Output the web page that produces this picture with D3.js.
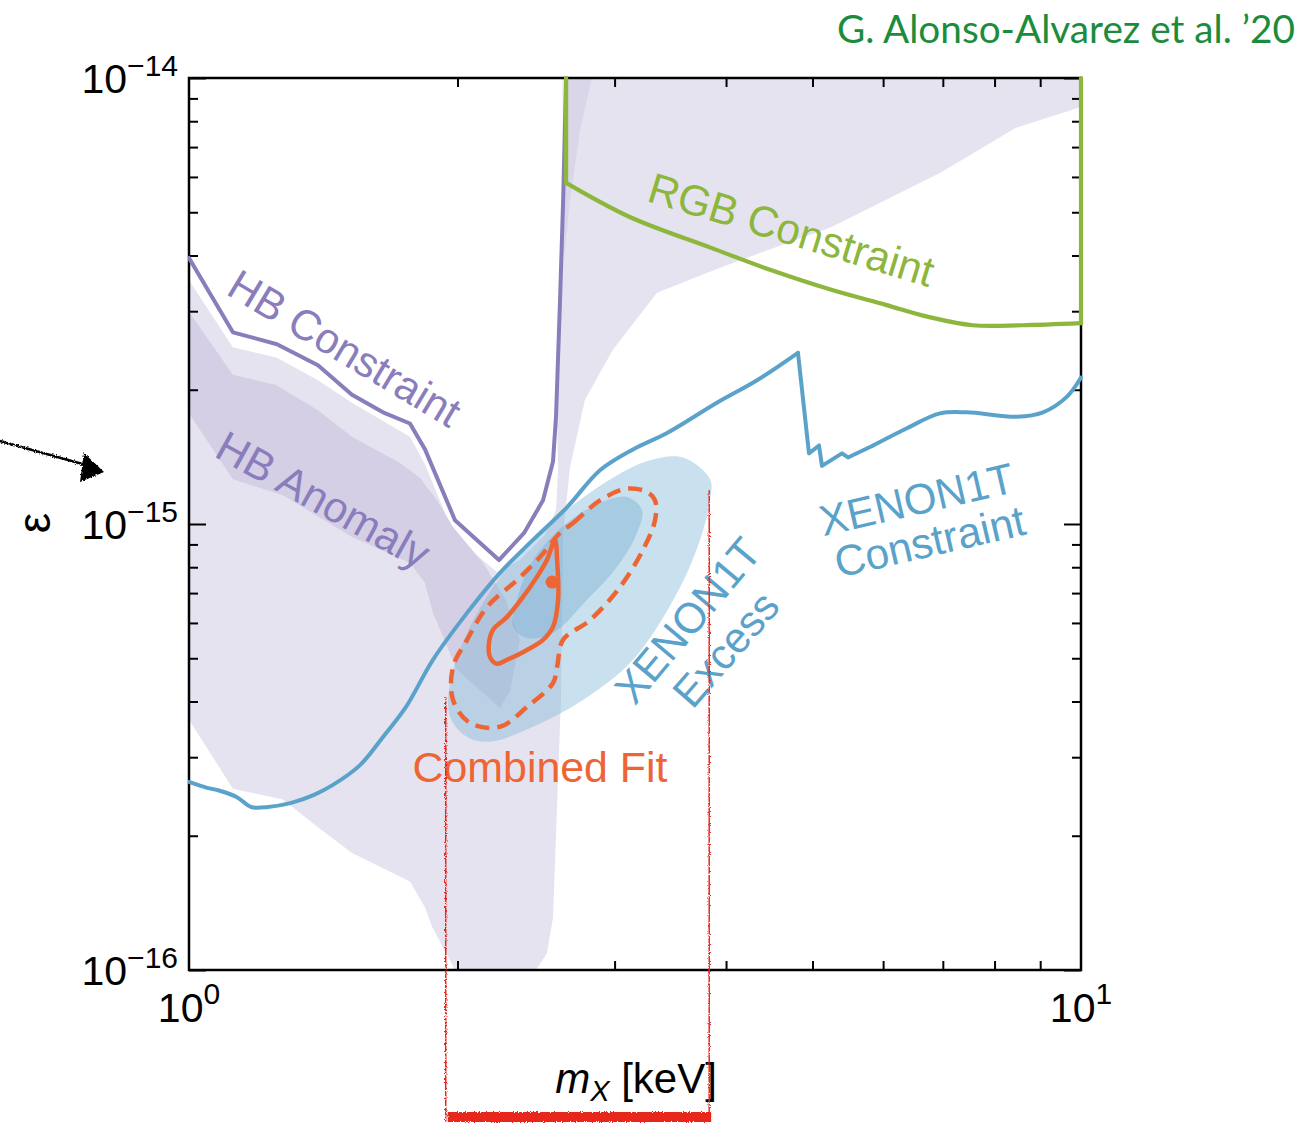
<!DOCTYPE html>
<html>
<head>
<meta charset="utf-8">
<script src="https://cdn.jsdelivr.net/npm/d3@7"></script>
<style>
  html, body { margin: 0; padding: 0; background: #ffffff; }
  svg { display: block; }
  text { font-family: "Liberation Sans", Arial, Helvetica, sans-serif; }
</style>
</head>
<body>
<svg id="chart" width="1304" height="1123"></svg>
<script>
// ---------------- data: m_X in keV, kinetic mixing epsilon ----------------
const xDomain = [1, 10];
const yDomain = [1e-16, 1e-14];
const xMajorTicks = [1, 10];
const xMinorTicks = [2, 3, 4, 5, 6, 7, 8, 9];
const yMajorTicks = [1e-16, 1e-15, 1e-14];
const yMinorTicks = [2e-16, 3e-16, 4e-16, 5e-16, 6e-16, 7e-16, 8e-16, 9e-16,
                     2e-15, 3e-15, 4e-15, 5e-15, 6e-15, 7e-15, 8e-15, 9e-15];
const xTickLabels = [{ v: 1, base: "10", exp: "0" }, { v: 10, base: "10", exp: "1" }];
const yTickLabels = [{ v: 1e-14, base: "10", exp: "\u221214" },
                     { v: 1e-15, base: "10", exp: "\u221215" },
                     { v: 1e-16, base: "10", exp: "\u221216" }];

// light lavender region (HB anomaly, broad)
const hbBroadRegion = [
  [1.000, 3.52e-15], [1.120, 2.49e-15], [1.255, 2.36e-15], [1.395, 2.10e-15], [1.523, 1.87e-15],
  [1.769, 1.57e-15], [1.839, 1.36e-15], [1.987, 9.35e-16], [2.214, 7.81e-16], [2.350, 8.30e-16],
  [2.506, 9.45e-16], [2.579, 1.075e-15], [2.593, 1.32e-15], [2.586, 1.71e-15], [2.612, 3.18e-15],
  [2.633, 5.33e-15], [2.647, 1e-14], [10, 1e-14], [10, 8.61e-15], [8.455, 7.73e-15],
  [6.949, 6.12e-15], [5.245, 4.63e-15], [3.958, 3.77e-15], [3.347, 3.30e-15], [2.987, 2.46e-15],
  [2.779, 1.90e-15], [2.674, 1.34e-15], [2.627, 9.55e-16], [2.612, 4.03e-16], [2.559, 1.31e-16],
  [2.519, 1.09e-16], [2.449, 1.00e-16], [1.987, 1.00e-16], [1.942, 1.09e-16], [1.873, 1.25e-16],
  [1.839, 1.38e-16], [1.769, 1.58e-16], [1.650, 1.69e-16], [1.523, 1.83e-16], [1.395, 2.09e-16],
  [1.274, 2.41e-16], [1.120, 2.55e-16], [1.000, 3.64e-16]
];
// narrow overlap wedge next to the vertical HB edge
const hbTopWedge = [[2.620, 1e-14], [2.830, 1e-14], [2.744, 7.64e-15], [2.674, 5.33e-15], [2.633, 3.91e-15]];

// darker lavender band (HB anomaly, preferred)
const hbAnomalyBand = [
  [1.000, 2.99e-15], [1.120, 2.16e-15], [1.252, 2.05e-15], [1.395, 1.80e-15], [1.523, 1.57e-15],
  [1.724, 1.37e-15], [1.815, 1.27e-15], [1.897, 1.13e-15], [1.977, 9.85e-16], [2.136, 8.18e-16],
  [2.261, 6.82e-16], [2.350, 5.50e-16], [2.291, 4.24e-16], [2.232, 3.87e-16], [1.997, 4.71e-16],
  [1.877, 6.32e-16], [1.839, 7.37e-16], [1.769, 8.18e-16], [1.523, 9.35e-16], [1.395, 1.04e-15],
  [1.274, 1.16e-15], [1.120, 1.26e-15], [1.000, 1.77e-15]
];

const hbConstraint = [
  [1.000, 3.95e-15], [1.120, 2.69e-15], [1.255, 2.53e-15], [1.395, 2.27e-15], [1.523, 1.95e-15],
  [1.650, 1.78e-15], [1.769, 1.68e-15], [1.839, 1.47e-15], [1.987, 1.02e-15], [2.226, 8.30e-16],
  [2.375, 9.55e-16], [2.494, 1.13e-15], [2.559, 1.38e-15], [2.579, 1.74e-15], [2.606, 3.18e-15],
  [2.627, 5.33e-15], [2.647, 1.0e-14]
];

// RGB bound: vertical edge, smooth floor, vertical edge
const rgbLeftEdge = [[2.647, 1.0e-14], [2.647, 5.82e-15]];
const rgbConstraint = [
  [2.647, 5.82e-15], [3.12, 4.88e-15], [3.85, 4.16e-15], [4.49, 3.71e-15],
  [5.25, 3.35e-15], [6.04, 3.10e-15], [6.76, 2.91e-15], [7.56, 2.79e-15], [8.59, 2.79e-15],
  [10, 2.82e-15]
];
const rgbRightEdge = [[10, 2.82e-15], [10, 1.0e-14]];

// XENON1T bound: smooth rise, jagged drop near 5 keV, smooth tail
const xenonRise = [
  [1.000, 2.64e-16], [1.048, 2.56e-16], [1.078, 2.53e-16], [1.132, 2.44e-16], [1.174, 2.32e-16],
  [1.226, 2.32e-16], [1.302, 2.37e-16], [1.381, 2.47e-16], [1.450, 2.60e-16], [1.555, 2.88e-16],
  [1.650, 3.33e-16], [1.751, 3.89e-16], [1.877, 4.96e-16], [2.050, 6.32e-16], [2.232, 7.77e-16],
  [2.430, 9.21e-16], [2.653, 1.09e-15], [2.889, 1.32e-15], [3.146, 1.47e-15], [3.435, 1.60e-15],
  [3.907, 1.87e-15], [4.333, 2.10e-15], [4.816, 2.42e-15]
];
const xenonDrop = [
  [4.816, 2.42e-15], [4.955, 1.44e-15], [5.085, 1.50e-15], [5.124, 1.35e-15], [5.396, 1.44e-15],
  [5.480, 1.41e-15], [5.847, 1.50e-15]
];
const xenonTail = [
  [5.847, 1.50e-15], [6.381, 1.64e-15], [6.949, 1.77e-15], [7.448, 1.78e-15], [8.478, 1.74e-15],
  [9.067, 1.78e-15], [9.645, 1.93e-15], [10, 2.13e-15]
];

// XENON1T excess preferred regions (2 sigma, 1 sigma)
const xenonExcess2s = [
  [3.838, 1.26e-15], [3.579, 1.41e-15], [3.287, 1.39e-15], [2.987, 1.27e-15], [2.653, 1.075e-15],
  [2.430, 9.21e-16], [2.232, 7.61e-16], [2.050, 5.70e-16], [1.962, 4.40e-16], [1.962, 3.69e-16],
  [2.050, 3.33e-16], [2.175, 3.25e-16], [2.430, 3.51e-16], [2.765, 4.03e-16], [3.146, 4.96e-16],
  [3.525, 7.00e-16], [3.740, 9.21e-16], [3.838, 1.13e-15]
];
const xenonExcess1s = [
  [3.220, 1.075e-15], [3.097, 1.15e-15], [2.889, 1.115e-15], [2.653, 1.005e-15], [2.430, 8.30e-16],
  [2.332, 6.76e-16], [2.308, 5.88e-16], [2.393, 5.55e-16], [2.559, 5.70e-16], [2.794, 6.76e-16],
  [3.018, 8.01e-16], [3.179, 9.55e-16]
];

// combined fit contours and best-fit point
const fit2s = [
  [2.606, 9.55e-16], [2.695, 1.005e-15], [2.889, 1.13e-15], [3.097, 1.20e-15], [3.262, 1.18e-15],
  [3.330, 1.13e-15], [3.330, 1.02e-15], [3.228, 8.75e-16], [3.042, 7.22e-16], [2.816, 6.09e-16],
  [2.627, 5.50e-16], [2.586, 4.78e-16], [2.559, 4.40e-16], [2.393, 3.89e-16], [2.232, 3.51e-16],
  [2.065, 3.58e-16], [1.977, 4.03e-16], [1.977, 4.78e-16], [2.050, 5.50e-16], [2.159, 6.52e-16],
  [2.332, 7.49e-16], [2.475, 8.43e-16]
];
const fit1s = [
  [2.572, 9.21e-16], [2.586, 8.30e-16], [2.593, 6.76e-16], [2.559, 5.88e-16], [2.494, 5.50e-16],
  [2.393, 5.22e-16], [2.273, 4.96e-16], [2.214, 4.86e-16], [2.175, 5.03e-16], [2.169, 5.41e-16],
  [2.192, 5.79e-16], [2.273, 6.19e-16], [2.368, 6.86e-16], [2.455, 7.61e-16], [2.519, 8.30e-16]
];
const bestFit = [2.553, 7.41e-16];

// hand-marked mass window of the excess
const excessMassRange = [1.94, 3.83];
const excessMarkerTops = [4.09e-16, 1.19e-15];

// ---------------- layout ----------------
const W = 1304, H = 1123;
const M = { left: 189, right: 1081, top: 78, bottom: 970 };
const C = {
  purple: "#8a7dbb", green: "#8db63c", blue: "#5ba2cb", orange: "#ee6534",
  lavLight: "#e6e3f0", lavDark: "#d4cfe4", title: "#1b8c3c", red: "#e8281c"
};

const svg = d3.select("#chart");
const x = d3.scaleLog().domain(xDomain).range([M.left, M.right]);
const y = d3.scaleLog().domain(yDomain).range([M.bottom, M.top]);

const defs = svg.append("defs");
defs.append("clipPath").attr("id", "plotClip").append("rect")
  .attr("x", M.left).attr("y", M.top).attr("width", M.right - M.left).attr("height", M.bottom - M.top);
defs.append("clipPath").attr("id", "lineClip").append("rect")
  .attr("x", M.left - 1).attr("y", M.top - 6).attr("width", M.right - M.left + 4).attr("height", M.bottom - M.top + 8);
const rough = defs.append("filter").attr("id", "rough").attr("x", "-5%").attr("y", "-50%").attr("width", "110%").attr("height", "200%");
rough.append("feTurbulence").attr("type", "fractalNoise").attr("baseFrequency", 0.9).attr("numOctaves", 2).attr("result", "n");
rough.append("feDisplacementMap").attr("in", "SourceGraphic").attr("in2", "n").attr("scale", 3.5)
  .attr("xChannelSelector", "R").attr("yChannelSelector", "G");

const line = d3.line().x(d => x(d[0])).y(d => y(d[1]));
const smooth = d3.line().x(d => x(d[0])).y(d => y(d[1])).curve(d3.curveCatmullRom.alpha(0.5));
const area = d3.line().x(d => x(d[0])).y(d => y(d[1])).curve(d3.curveLinearClosed);
const blob = d3.line().x(d => x(d[0])).y(d => y(d[1])).curve(d3.curveCatmullRomClosed.alpha(0.5));

// ---------------- filled regions ----------------
const fills = svg.append("g").attr("clip-path", "url(#plotClip)");
fills.append("path").attr("d", area(hbBroadRegion)).attr("fill", C.lavLight);
fills.append("path").attr("d", area(hbTopWedge)).attr("fill", "#b8b0d6").attr("fill-opacity", 0.25);
fills.append("path").attr("d", area(hbAnomalyBand)).attr("fill", C.lavDark);
fills.append("path").attr("d", blob(xenonExcess2s)).attr("fill", "#7fb6d6").attr("fill-opacity", 0.42);
fills.append("path").attr("d", blob(xenonExcess1s)).attr("fill", "#72aad0").attr("fill-opacity", 0.38);

// ---------------- frame and ticks ----------------
const axes = svg.append("g");
function styleAxis(g) {
  g.select(".domain").remove();
  g.selectAll(".tick line").attr("stroke", "#000").attr("stroke-width", 2);
  g.selectAll(".tick text").remove();
}
const noLabel = () => "";
axes.append("g").attr("transform", `translate(0,${M.bottom})`)
  .call(d3.axisBottom(x).tickValues(xMinorTicks).tickSizeInner(-9).tickSizeOuter(0).tickFormat(noLabel)).call(styleAxis);
axes.append("g").attr("transform", `translate(0,${M.top})`)
  .call(d3.axisTop(x).tickValues(xMinorTicks).tickSizeInner(-9).tickSizeOuter(0).tickFormat(noLabel)).call(styleAxis);
axes.append("g").attr("transform", `translate(${M.left},0)`)
  .call(d3.axisLeft(y).tickValues(yMajorTicks).tickSizeInner(-17).tickSizeOuter(0).tickFormat(noLabel)).call(styleAxis);
axes.append("g").attr("transform", `translate(${M.left},0)`)
  .call(d3.axisLeft(y).tickValues(yMinorTicks).tickSizeInner(-9).tickSizeOuter(0).tickFormat(noLabel)).call(styleAxis);
axes.append("g").attr("transform", `translate(${M.right},0)`)
  .call(d3.axisRight(y).tickValues(yMajorTicks).tickSizeInner(-17).tickSizeOuter(0).tickFormat(noLabel)).call(styleAxis);
axes.append("g").attr("transform", `translate(${M.right},0)`)
  .call(d3.axisRight(y).tickValues(yMinorTicks).tickSizeInner(-9).tickSizeOuter(0).tickFormat(noLabel)).call(styleAxis);
axes.append("rect").attr("x", x(xDomain[0])).attr("y", y(yDomain[1]))
  .attr("width", x(xDomain[1]) - x(xDomain[0])).attr("height", y(yDomain[0]) - y(yDomain[1]))
  .attr("fill", "none").attr("stroke", "#000").attr("stroke-width", 2.5);

// ---------------- curves ----------------
const lines = svg.append("g").attr("clip-path", "url(#lineClip)")
  .attr("fill", "none").attr("stroke-linejoin", "round").attr("stroke-linecap", "round");
lines.append("path").attr("d", line(hbConstraint)).attr("stroke", C.purple).attr("stroke-width", 4);
[line(rgbLeftEdge), smooth(rgbConstraint), line(rgbRightEdge)].forEach(d =>
  lines.append("path").attr("d", d).attr("stroke", C.green).attr("stroke-width", 4.2));
[smooth(xenonRise), line(xenonDrop), smooth(xenonTail)].forEach(d =>
  lines.append("path").attr("d", d).attr("stroke", C.blue).attr("stroke-width", 4));
lines.append("path").attr("d", blob(fit2s)).attr("stroke", C.orange).attr("stroke-width", 4.5)
  .attr("stroke-dasharray", "14 8").attr("stroke-linecap", "butt");
lines.append("path").attr("d", blob(fit1s)).attr("stroke", C.orange).attr("stroke-width", 4.5);
svg.append("circle").attr("cx", x(bestFit[0])).attr("cy", y(bestFit[1])).attr("r", 6.5).attr("fill", C.orange);

// ---------------- tick labels ----------------
const tl = svg.append("g").attr("fill", "#000");
yTickLabels.forEach(t => {
  const tx = tl.append("text").attr("x", M.left - 11).attr("y", y(t.v) + 15)
    .attr("text-anchor", "end").attr("font-size", 41);
  tx.append("tspan").text(t.base);
  tx.append("tspan").attr("font-size", 30).attr("dy", -17).text(t.exp);
});
xTickLabels.forEach(t => {
  const tx = tl.append("text").attr("x", x(t.v)).attr("y", M.bottom + 52)
    .attr("text-anchor", "middle").attr("font-size", 41);
  tx.append("tspan").text(t.base);
  tx.append("tspan").attr("font-size", 30).attr("dy", -18).text(t.exp);
});

// axis titles
const xt = svg.append("text").attr("x", 636).attr("y", 1093).attr("text-anchor", "middle").attr("font-size", 42);
xt.append("tspan").attr("font-style", "italic").text("m");
xt.append("tspan").attr("font-style", "italic").attr("font-size", 29).attr("dy", 8).text("X");
xt.append("tspan").attr("dy", -8).text(" [keV]");
svg.append("text").attr("transform", "translate(50,523) rotate(-90)")
  .attr("text-anchor", "middle").attr("font-size", 46).text("\u03b5");

// ---------------- region labels ----------------
function rotLabel(txt, cx, cy, angle, color, size, len) {
  const t = svg.append("text").attr("transform", `translate(${cx},${cy}) rotate(${angle})`)
    .attr("text-anchor", "middle").attr("font-size", size).attr("fill", color).text(txt);
  if (len) t.attr("textLength", len).attr("lengthAdjust", "spacingAndGlyphs");
}
rotLabel("HB Constraint", 337, 361, 31, C.purple, 43, 262);
rotLabel("HB Anomaly", 316, 513, 29, C.purple, 43, 236);
rotLabel("RGB Constraint", 787, 244, 17, C.green, 43, 296);
rotLabel("XENON1T", 920, 514, -13, C.blue, 43, 198);
rotLabel("Constraint", 933, 556, -13, C.blue, 43, 194);
rotLabel("XENON1T", 699, 630, -50, C.blue, 43, 200);
rotLabel("Excess", 737, 659, -49, C.blue, 43, 136);
svg.append("text").attr("x", 540).attr("y", 782).attr("text-anchor", "middle")
  .attr("font-size", 43).attr("fill", C.orange).attr("textLength", 255).attr("lengthAdjust", "spacingAndGlyphs")
  .text("Combined Fit");

// title
svg.append("text").attr("x", 1295).attr("y", 43).attr("text-anchor", "end")
  .style("font-family", "Lato, 'Open Sans', sans-serif").attr("font-size", 39).attr("fill", C.title)
  .attr("textLength", 458).attr("lengthAdjust", "spacingAndGlyphs")
  .text("G. Alonso-Alvarez et al. \u201920");

// ---------------- hand-drawn annotations ----------------
const ann = svg.append("g").attr("filter", "url(#rough)");
excessMassRange.forEach((m, i) => {
  ann.append("line").attr("x1", x(m)).attr("x2", x(m))
    .attr("y1", y(excessMarkerTops[i])).attr("y2", H - 1)
    .attr("stroke", C.red).attr("stroke-width", 1.5);
});
ann.append("rect").attr("x", x(excessMassRange[0]) + 2).attr("y", H - 11)
  .attr("width", x(excessMassRange[1]) - x(excessMassRange[0])).attr("height", 10)
  .attr("fill", C.red);

const arrow = svg.append("g").attr("filter", "url(#rough)");
arrow.append("line").attr("x1", 0).attr("y1", 441).attr("x2", 86).attr("y2", 465)
  .attr("stroke", "#000").attr("stroke-width", 2.4);
arrow.append("path").attr("d", "M84,453 L80,482 L104,472 Z").attr("fill", "#000");
</script>
</body>
</html>
